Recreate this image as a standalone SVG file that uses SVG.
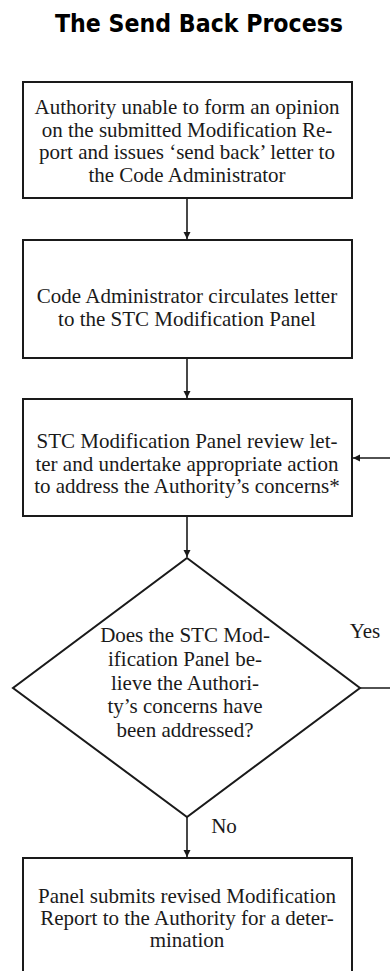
<svg xmlns="http://www.w3.org/2000/svg" width="390" height="971" viewBox="0 0 390 971">
<defs>
<style>
.box{fill:#fff;stroke:#1a1a1a;stroke-width:2}
.t{font-family:"Liberation Serif","Times New Roman",serif;font-size:21px;fill:#1a1a1a;text-anchor:middle}
.c{fill:none;stroke:#1a1a1a;stroke-width:1.6}
.title{font-family:"DejaVu Sans",Verdana,sans-serif;font-weight:bold;font-size:25px;fill:#000}
</style>
<marker id="ah" markerUnits="userSpaceOnUse" markerWidth="8" markerHeight="8" refX="7" refY="3.5" orient="auto">
<path d="M0,0 L7,3.5 L0,7 z" fill="#1a1a1a"/>
</marker>
</defs>
<rect width="390" height="971" fill="#fff"/>
<text class="title" x="55" y="32" textLength="288" lengthAdjust="spacingAndGlyphs">The Send Back Process</text>
<g id="connectors">
<line class="c" x1="187" y1="199" x2="187" y2="239" marker-end="url(#ah)"/>
<line class="c" x1="187" y1="359" x2="187" y2="398" marker-end="url(#ah)"/>
<line class="c" x1="187" y1="517" x2="187" y2="557" marker-end="url(#ah)"/>
<line class="c" x1="187" y1="817" x2="187" y2="857" marker-end="url(#ah)"/>
<polyline class="c" points="360,688 400,688 400,458 353,458" marker-end="url(#ah)"/>
<text class="t" x="365" y="638">Yes</text>
<text class="t" x="224" y="833">No</text>
</g>
<g id="n1">
<rect class="box" x="23" y="82" width="329" height="116"/>
<text class="t" x="187" y="114">Authority unable to form an opinion</text>
<text class="t" x="187" y="137">on the submitted Modification Re-</text>
<text class="t" x="187" y="159">port and issues ‘send back’ letter to</text>
<text class="t" x="187" y="182">the Code Administrator</text>
</g>
<g id="n2">
<rect class="box" x="23" y="240" width="329" height="118"/>
<text class="t" x="187" y="303">Code Administrator circulates letter</text>
<text class="t" x="187" y="326">to the STC Modification Panel</text>
</g>
<g id="n3">
<rect class="box" x="23" y="399" width="329" height="117"/>
<text class="t" x="187" y="448">STC Modification Panel review let-</text>
<text class="t" x="187" y="471">ter and undertake appropriate action</text>
<text class="t" x="187" y="493">to address the Authority’s concerns*</text>
</g>
<g id="n4">
<polygon class="box" points="187,558 360,688 187,817 13,688"/>
<text class="t" x="185" y="642">Does the STC Mod-</text>
<text class="t" x="185" y="666">ification Panel be-</text>
<text class="t" x="185" y="690">lieve the Authori-</text>
<text class="t" x="185" y="713">ty’s concerns have</text>
<text class="t" x="185" y="737">been addressed?</text>
</g>
<g id="n5">
<rect class="box" x="23" y="858" width="329" height="125"/>
<text class="t" x="187" y="903">Panel submits revised Modification</text>
<text class="t" x="187" y="925">Report to the Authority for a deter-</text>
<text class="t" x="187" y="947">mination</text>
</g>
</svg>
